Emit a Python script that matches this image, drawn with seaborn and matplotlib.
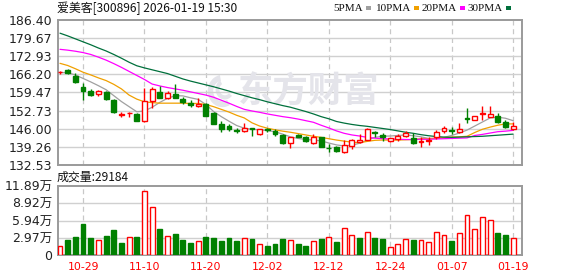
import numpy as np
import pandas as pd
import matplotlib
matplotlib.use("Agg")
import matplotlib.pyplot as plt
from matplotlib.patches import Rectangle, Wedge
import seaborn as sns

# ---------------- data ----------------
title = "爱美客[300896] 2026-01-19 15:30"
vol_title = "成交量:29184"

dates = ["10-24", "10-27", "10-28", "10-29", "10-30", "10-31",
         "11-03", "11-04", "11-05", "11-06", "11-07", "11-10", "11-11", "11-12", "11-13", "11-14",
         "11-17", "11-18", "11-19", "11-20", "11-21", "11-24", "11-25", "11-26", "11-27", "11-28",
         "12-01", "12-02", "12-03", "12-04", "12-05", "12-08", "12-09", "12-10", "12-11", "12-12",
         "12-15", "12-16", "12-17", "12-18", "12-19", "12-22", "12-23", "12-24", "12-25", "12-26",
         "12-29", "12-30", "12-31", "01-05", "01-06", "01-07", "01-08", "01-09",
         "01-12", "01-13", "01-14", "01-15", "01-16", "01-19"]
tick_dates = ["10-29", "11-10", "11-20", "12-02", "12-12", "12-24", "01-07", "01-19"]

opens = [166.9, 167.8, 165.7, 161.5, 160.0, 158.8, 159.5, 156.7, 151.2, 151.8,
         151.5, 148.8, 156.2, 159.5, 157.5, 158.8, 156.9, 155.5, 154.3, 155.1,
         152.0, 147.9, 146.9, 145.5, 145.2, 146.3, 143.9, 145.9, 145.2, 143.7,
         140.6, 143.7, 142.8, 140.6, 142.8, 139.0, 139.1, 137.4, 139.7, 141.1,
         142.0, 144.7, 143.6, 141.6, 142.3, 143.4, 142.7, 141.0, 141.5, 143.1,
         145.3, 145.7, 144.9, 150.1, 149.2, 151.4, 150.5, 150.6, 148.4, 145.8]
highs = [167.6, 168.3, 166.6, 162.9, 160.7, 160.4, 160.0, 156.9, 152.2, 152.4,
         151.8, 161.0, 161.4, 161.8, 160.0, 162.5, 157.8, 156.7, 157.3, 155.5,
         152.2, 148.9, 147.7, 146.3, 148.1, 146.4, 146.0, 146.2, 145.9, 144.0,
         143.0, 144.2, 143.3, 144.0, 143.0, 140.2, 139.6, 142.0, 142.2, 144.1,
         146.4, 145.0, 144.6, 142.6, 143.9, 145.3, 144.6, 142.9, 142.9, 145.5,
         147.0, 146.5, 148.0, 153.8, 150.8, 154.4, 154.6, 152.0, 149.2, 148.6]
lows = [166.5, 166.2, 163.1, 156.7, 158.3, 158.3, 156.7, 151.7, 150.3, 150.2,
        148.9, 148.4, 153.8, 157.3, 156.9, 157.3, 155.2, 154.1, 154.1, 150.6,
        147.8, 144.9, 145.3, 144.3, 144.9, 143.2, 143.5, 144.9, 143.3, 140.2,
        139.0, 142.8, 141.2, 140.3, 139.3, 137.5, 137.5, 136.9, 138.6, 140.8,
        141.8, 142.8, 141.5, 141.2, 141.3, 142.8, 140.5, 139.2, 139.9, 142.2,
        144.5, 144.1, 144.6, 148.3, 149.1, 149.2, 150.3, 148.0, 146.2, 145.6]
closes = [167.1, 166.6, 163.5, 160.0, 158.6, 160.0, 157.0, 152.1, 151.3, 152.0,
          149.0, 156.2, 160.7, 157.5, 159.2, 157.5, 156.0, 154.7, 155.2, 150.8,
          147.9, 146.0, 145.8, 145.1, 146.3, 146.0, 145.9, 145.4, 143.9, 140.6,
          142.8, 143.1, 141.6, 142.8, 139.3, 138.7, 137.8, 140.1, 141.9, 141.9,
          145.8, 144.3, 142.8, 142.4, 143.4, 144.3, 140.8, 141.3, 142.0, 144.7,
          146.3, 145.1, 145.9, 149.6, 150.8, 151.7, 151.5, 148.5, 146.5, 147.0]

ma5 = [166.9, 166.8, 166.0, 164.7, 163.4, 162.0, 160.5, 158.3, 156.1, 154.2,
       152.3, 152.6, 154.0, 155.8, 157.3, 158.3, 158.2, 157.5, 156.9, 155.0,
       152.4, 150.5, 148.8, 147.2, 146.2, 145.8, 145.6, 145.3, 144.9, 144.0,
       143.0, 142.4, 142.0, 141.8, 141.5, 140.7, 140.0, 139.6, 139.9, 140.6,
       141.8, 142.8, 143.2, 143.3, 143.5, 143.7, 143.4, 143.0, 142.4, 142.4,
       142.8, 143.5, 144.4, 145.5, 147.0, 148.5, 150.0, 150.3, 149.9, 149.0]
ma10 = [170.3, 169.5, 168.3, 167.0, 166.0, 164.9, 163.9, 162.5, 160.8, 158.5,
        157.0, 156.0, 155.7, 155.5, 155.5, 155.5, 155.5, 155.4, 155.4, 155.0,
        154.2, 153.2, 152.2, 151.0, 150.0, 148.2, 147.0, 146.2, 145.6, 145.1,
        144.7, 144.2, 143.7, 143.2, 142.8, 142.3, 141.8, 141.4, 141.0, 140.8,
        141.3, 141.7, 141.8, 141.8, 141.8, 141.9, 142.0, 142.3, 142.3, 142.5,
        142.7, 142.9, 143.0, 143.2, 144.6, 145.8, 146.6, 147.3, 147.8, 147.8]
ma20 = [175.5, 175.2, 174.8, 174.3, 173.6, 172.6, 171.5, 170.2, 168.8, 167.3,
        165.8, 164.3, 162.6, 161.9, 161.3, 160.8, 160.3, 159.7, 159.1, 158.5,
        157.7, 156.6, 155.5, 154.3, 153.2, 152.6, 152.1, 151.5, 151.0, 150.5,
        150.1, 149.6, 149.0, 148.4, 147.3, 146.3, 145.2, 144.3, 143.7, 143.3,
        142.8, 142.5, 142.3, 142.2, 142.1, 142.0, 142.0, 142.1, 142.1, 142.2,
        142.3, 142.4, 142.5, 142.6, 143.5, 143.9, 144.4, 144.9, 145.1, 145.4]
ma30 = [181.5, 180.5, 179.4, 178.3, 177.2, 176.0, 174.9, 173.6, 172.2, 170.7,
        169.4, 168.6, 167.9, 167.2, 166.5, 165.5, 164.5, 163.7, 163.0, 162.3,
        161.6, 160.8, 160.0, 159.1, 158.3, 157.5, 156.8, 156.0, 155.3, 154.6,
        154.0, 153.2, 152.4, 151.5, 150.5, 149.7, 148.7, 148.1, 147.6, 147.2,
        146.9, 146.5, 146.1, 145.7, 145.2, 144.7, 144.3, 143.8, 143.4, 143.1,
        142.9, 142.8, 142.9, 143.0, 143.1, 143.2, 143.4, 143.6, 143.8, 144.0]

# volume in 万 (10k lots); last bar = 29184
volumes = [1.50, 2.58, 3.10, 5.34, 2.93, 2.58, 3.27, 4.31, 2.07, 3.04,
           3.10, 10.97, 8.21, 4.48, 3.22, 3.62, 2.58, 2.07, 2.36, 3.10,
           2.93, 2.41, 2.93, 2.41, 2.87, 2.76, 1.84, 1.55, 1.90, 2.76,
           2.58, 1.90, 1.55, 2.41, 2.76, 3.04, 2.24, 4.60, 3.39, 2.93,
           3.96, 2.93, 2.76, 1.32, 1.90, 2.70, 2.58, 2.53, 2.24, 3.96,
           3.39, 2.41, 3.79, 6.89, 4.42, 6.49, 5.97, 3.85, 3.45, 2.9184]
# volume direction as shown (1 = up/red, 0 = down/green)
vol_up = [1, 0, 0, 0, 0, 1, 0, 0, 0, 1,
          0, 1, 1, 0, 1, 0, 0, 0, 1, 0,
          0, 0, 0, 0, 1, 0, 1, 0, 0, 0,
          1, 0, 0, 1, 0, 1, 0, 1, 1, 0,
          1, 0, 0, 1, 1, 1, 0, 1, 1, 1,
          1, 0, 1, 1, 1, 1, 1, 0, 0, 1]

price_ticks = [132.53, 139.26, 146.00, 152.73, 159.47, 166.20, 172.93, 179.67, 186.40]
vol_ticks = [0, 2.97, 5.94, 8.92, 11.89]
vol_tick_labels = ["0", "2.97万", "5.94万", "8.92万", "11.89万"]

ma_names = ["5PMA", "10PMA", "20PMA", "30PMA"]
ma_colors = ["#a0a0a0", "#f0a000", "#ff00ff", "#00703c"]
watermark = "东方财富"

# ---------------- style ----------------
sns.set_theme(style="white")
plt.rcParams["font.family"] = ["DejaVu Sans", "Noto Sans CJK SC"]

RED = "#ff0000"
GREEN = "#008000"
GRID = "#d0d0d0"
SPINE = "#9a9a9a"
TXT = "#222222"
WM = "#e4e4ea"

W, H = 578, 276
fig = plt.figure(figsize=(W / 100, H / 100), dpi=100)
fig.patch.set_facecolor("white")

def fx(px):
    return px / W

def fy(py):
    return 1 - py / H

x_left, x_right = 58, 522

# watermark logo sits behind the price axes
logo_ax = fig.add_axes([fx(207), fy(108), fx(31), 34 / H])
logo_ax.set_axis_off()
logo_ax.set_xlim(-1, 1)
logo_ax.set_ylim(-1, 1)
logo_ax.add_patch(Wedge((0, 0), 0.95, 100, 300, width=0.35, facecolor=WM, edgecolor="none"))
logo_ax.add_patch(Wedge((0.15, 0.1), 0.6, 120, 320, width=0.25, facecolor=WM, edgecolor="none"))

ax = fig.add_axes([fx(x_left), fy(165), fx(x_right - x_left), (165 - 20) / H])
axv = fig.add_axes([fx(x_left), fy(255), fx(x_right - x_left), (255 - 186) / H])
ax.patch.set_alpha(0)

n = len(dates)
idx = np.arange(n)
px_per = 7.68
xl = -(60 - x_left) / px_per
xr = xl + (x_right - x_left) / px_per

df = pd.DataFrame({"i": idx, "open": opens, "high": highs, "low": lows, "close": closes,
                   "ma5": ma5, "ma10": ma10, "ma20": ma20, "ma30": ma30,
                   "vol": volumes, "up": vol_up})

tick_pos = [dates.index(d) for d in tick_dates]

for a in (ax, axv):
    a.set_xlim(xl, xr)
    for s in a.spines.values():
        s.set_color(SPINE)
        s.set_linewidth(1.4)
    for p in tick_pos:
        a.axvline(p, color="#c8c8c8", lw=0.9, ls=(0, (4, 3)), zorder=0)
    a.tick_params(axis="both", length=0, colors=TXT)
axv.set_facecolor("white")

# ---- main price axes ----
ax.set_ylim(price_ticks[0], price_ticks[-1])
ax.set_yticks(price_ticks)
ax.set_yticklabels([f"{t:.2f}" for t in price_ticks], fontsize=9, color=TXT)
for t in price_ticks[1:-1]:
    ax.axhline(t, color=GRID, lw=1.0, zorder=0)
ax.set_xticks([])
ax.tick_params(axis="y", pad=4)

ax.text(0.541, 0.50, watermark, transform=ax.transAxes, fontsize=25.5,
        family=["Noto Sans CJK SC"], fontweight="bold", color=WM,
        ha="center", va="center", zorder=0.5)

# MA lines
for col, c in zip(["ma5", "ma10", "ma20", "ma30"], ma_colors):
    sns.lineplot(data=df, x="i", y=col, ax=ax, color=c, lw=0.9, legend=False, zorder=2)

# candles
bw = 0.64
for r in df.itertuples():
    up = r.close >= r.open
    col = RED if up else GREEN
    ax.vlines(r.i, r.low, r.high, color=col, lw=1.0, zorder=3)
    bottom = min(r.open, r.close)
    hgt = max(abs(r.close - r.open), 0.02)
    ax.bar(r.i, hgt, bottom=bottom, width=bw,
           facecolor="white" if up else GREEN, edgecolor=col, linewidth=1.0, zorder=4)
ax.set_xlabel("")
ax.set_ylabel("")

# ---- volume axes ----
axv.set_ylim(0, vol_ticks[-1])
axv.set_yticks(vol_ticks)
axv.set_yticklabels(vol_tick_labels, fontsize=9, color=TXT)
for t in vol_ticks[1:-1]:
    axv.axhline(t, color=GRID, lw=1.0, zorder=0)
for r in df.itertuples():
    col = RED if r.up else GREEN
    axv.bar(r.i, r.vol, width=bw, facecolor="white" if r.up else GREEN,
            edgecolor=col, linewidth=1.0, zorder=3)
axv.set_xticks(tick_pos)
axv.set_xticklabels(tick_dates, fontsize=7.8, color=RED)
axv.tick_params(axis="x", pad=5)
axv.tick_params(axis="y", pad=4)
axv.set_xlabel("")
axv.set_ylabel("")

# ---- header texts ----
fig.text(fx(57), fy(8), title, fontsize=8.6, color="#111111", ha="left", va="center",
         family=["Noto Sans CJK SC", "DejaVu Sans"])
fig.text(fx(57), fy(177), vol_title, fontsize=8.6, color="#111111", ha="left", va="center",
         family=["Noto Sans CJK SC", "DejaVu Sans"])

sq_x = [366, 414, 460, 506]
for name, c, sx in zip(ma_names, ma_colors, sq_x):
    fig.text(fx(sx - 3), fy(8.5), name, fontsize=8, color="#111111", ha="right", va="center",
             family=["Liberation Serif"])
    fig.patches.append(Rectangle((fx(sx), fy(10)), 5 / W, 3.5 / H, transform=fig.transFigure,
                                 facecolor=c, edgecolor="none"))

fig.savefig("out.png", dpi=100, facecolor="white")
